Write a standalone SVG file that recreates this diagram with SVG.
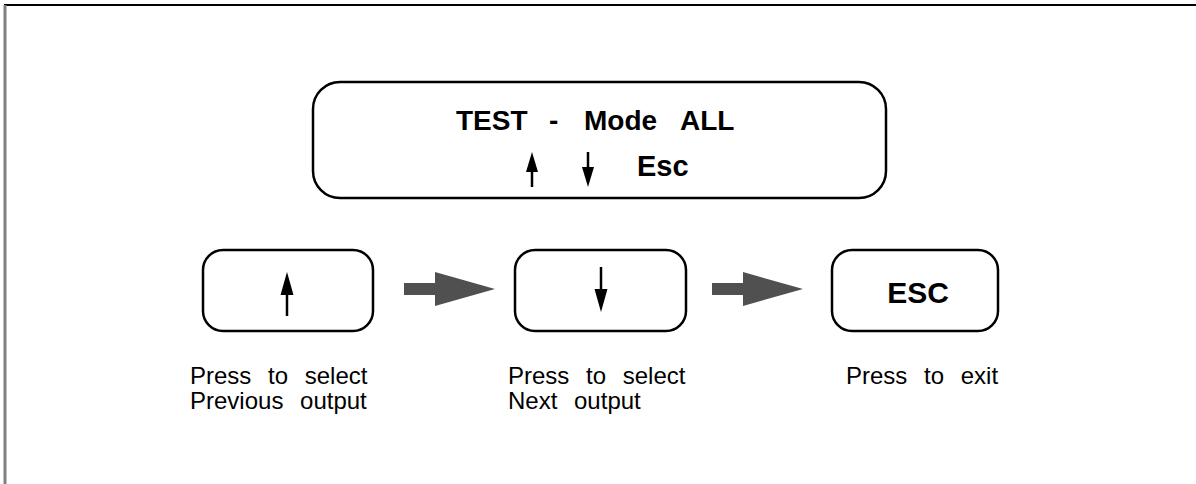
<svg xmlns="http://www.w3.org/2000/svg" width="1196" height="484" viewBox="0 0 1196 484">
<style>
.box{fill:#fff;stroke:#000;stroke-width:2.5}
.bold{font-family:"Liberation Sans",Arial,sans-serif;font-weight:bold;font-size:28px;fill:#000}
.lbl{font-family:"Liberation Sans",Arial,sans-serif;font-size:24px;fill:#000;word-spacing:10px}
.shaft{stroke:#000;stroke-width:2.5;fill:none}
.head{fill:#000}
.big{fill:#505050}
</style>
<rect width="1196" height="484" fill="#fff"/>
<g id="frame">
<line x1="4" y1="5" x2="1196" y2="5" stroke="#000" stroke-width="2"/>
<line x1="5" y1="5" x2="5" y2="484" stroke="#808080" stroke-width="3"/>
</g>
<g id="display">
<rect class="box" x="313" y="82" width="573" height="116" rx="27"/>
<text class="bold" y="130"><tspan x="456">TEST</tspan><tspan x="549">-</tspan><tspan x="584">Mode</tspan><tspan x="680">ALL</tspan></text>
<line class="shaft" x1="532" y1="168" x2="532" y2="187"/>
<polygon class="head" points="532,152 526,172 538,172"/>
<line class="shaft" x1="588" y1="152" x2="588" y2="171"/>
<polygon class="head" points="588,187 582,167 594,167"/>
<text class="bold" x="637" y="176" style="font-size:29px">Esc</text>
</g>
<g id="btn-up">
<rect class="box" x="203" y="250" width="170" height="81" rx="20"/>
<line class="shaft" x1="287" y1="292" x2="287" y2="316"/>
<polygon class="head" points="287,272 280.5,295 293.5,295"/>
</g>
<g id="btn-down">
<rect class="box" x="515" y="250" width="171" height="81" rx="20"/>
<line class="shaft" x1="601" y1="267" x2="601" y2="292"/>
<polygon class="head" points="601,312 594.5,289 607.5,289"/>
</g>
<g id="btn-esc">
<rect class="box" x="832" y="250" width="166" height="81" rx="20"/>
<text class="bold" x="918" y="303" text-anchor="middle" style="font-size:30px">ESC</text>
</g>
<g id="connectors">
<polygon class="big" points="404,283 435,283 435,272 495,289 435,306 435,295 404,295"/>
<polygon class="big" points="712,283 743,283 743,272 803,289 743,306 743,295 712,295"/>
</g>
<g id="labels">
<text class="lbl" x="190" y="384">Press to select</text>
<text class="lbl" x="190" y="409">Previous output</text>
<text class="lbl" x="508" y="384">Press to select</text>
<text class="lbl" x="508" y="409">Next output</text>
<text class="lbl" x="846" y="384">Press to exit</text>
</g>
</svg>
